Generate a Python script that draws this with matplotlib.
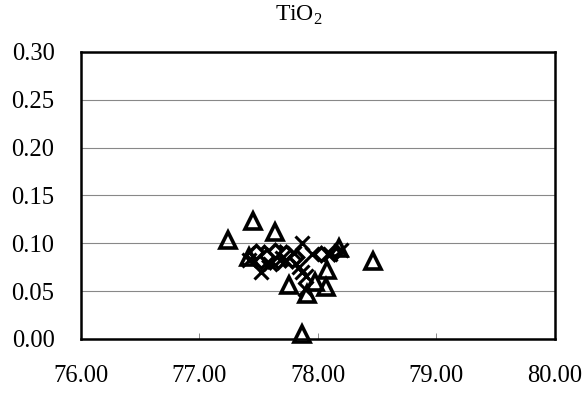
import matplotlib
matplotlib.use("Agg")
import matplotlib.pyplot as plt

plt.rcParams["font.family"] = ["Liberation Serif", "DejaVu Serif"]
plt.rcParams["mathtext.fontset"] = "custom"
plt.rcParams["mathtext.rm"] = "Liberation Serif"

# --- Data ---
DIAMOND_X = [77.45, 77.50, 77.55, 77.58, 77.62, 77.65, 77.68, 77.72, 77.75,
             77.52, 77.60, 77.66, 77.70, 77.78, 77.48, 77.57, 77.64, 77.73,
             77.82, 78.03, 78.14]
DIAMOND_Y = [0.088, 0.085, 0.090, 0.083, 0.088, 0.086, 0.090, 0.084, 0.087,
             0.081, 0.082, 0.081, 0.088, 0.083, 0.091, 0.087, 0.092, 0.090,
             0.086, 0.089, 0.090]

TRIANGLE_X = [77.24, 77.45, 77.64, 78.47, 78.18, 77.42, 78.08, 77.76, 77.98,
              78.07, 77.91, 77.87]
TRIANGLE_Y = [0.103, 0.123, 0.112, 0.081, 0.095, 0.086, 0.072, 0.056, 0.060,
              0.054, 0.047, 0.005]

CROSS_X = [77.87, 77.52, 77.87, 77.89, 77.42, 77.80, 77.95, 78.10, 77.60,
           77.70, 77.84, 77.90, 78.20]
CROSS_Y = [0.100, 0.070, 0.070, 0.052, 0.083, 0.090, 0.089, 0.089, 0.078,
           0.085, 0.075, 0.066, 0.093]

X_TICKS = [76.0, 77.0, 78.0, 79.0, 80.0]
Y_TICKS = [0.00, 0.05, 0.10, 0.15, 0.20, 0.25, 0.30]
TITLE = r"TiO$_\mathregular{2}$"

# --- Plot ---
fig = plt.figure(figsize=(5.82, 3.96), dpi=100)
ax = fig.add_axes([0.139, 0.144, 0.814, 0.725])

ax.plot(DIAMOND_X, DIAMOND_Y, ls="none", marker="D", ms=7, mfc="white",
        mec="black", mew=2.5, zorder=3)
ax.plot(CROSS_X, CROSS_Y, ls="none", marker="x", ms=10, color="black",
        mew=2.2, zorder=4)
ax.plot(TRIANGLE_X, TRIANGLE_Y, ls="none", marker="^", ms=12, mfc="none",
        mec="black", mew=2.6, zorder=5, clip_on=False)

ax.set_xlim(X_TICKS[0], X_TICKS[-1])
ax.set_ylim(Y_TICKS[0], Y_TICKS[-1])
ax.set_xticks(X_TICKS)
ax.set_yticks(Y_TICKS)
ax.set_xticklabels([f"{v:.2f}" for v in X_TICKS])
ax.set_yticklabels([f"{v:.2f}" for v in Y_TICKS])
ax.tick_params(axis="x", direction="in", length=4, width=0.6, color="#777777",
               labelsize=17.7, pad=19)
ax.tick_params(axis="y", length=0, labelsize=17.7, pad=19)

ax.yaxis.grid(True, color="#888888", linewidth=0.8)
ax.set_axisbelow(True)
for s in ax.spines.values():
    s.set_linewidth(1.8)
    s.set_color("black")

fig.text(299 / 582, 1 - 15 / 396, TITLE, fontsize=17, ha="center", va="center")

fig.savefig("out.png", dpi=100)
